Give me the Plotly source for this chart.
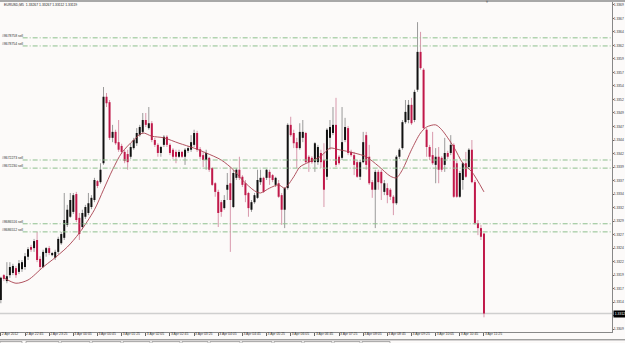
import numpy as np
import pandas as pd
import plotly.graph_objects as go

symbol = "EURUSD,M5"
first_bar = "2012-04-02 22:05"

# prices in points (1e-5)
open_pts = [133144,133190,133179,133190,133194,133203,133196,133201,133205,133224,
133242,133240,133255,133220,133205,133231,133240,133227,133222,133233,
133249,133259,133283,133298,133307,133340,133296,133279,133298,133305,
133316,133329,133364,133362,133397,133520,133510,133444,133455,133436,
133429,133418,133414,133409,133425,133434,133449,133455,133477,133462,
133471,133440,133431,133416,133431,133446,133431,133422,133418,133409,
133418,133409,133420,133422,133431,133453,133423,133412,133403,133407,
133388,133360,133344,133325,133314,133348,133360,133316,133370,133385,
133372,133360,133342,133311,133325,133333,133362,133370,133370,133381,
133375,133357,133360,133338,133311,133351,133468,133453,133436,133425,
133444,133453,133409,133407,133399,133399,133416,133403,133372,133444,
133453,133468,133409,133407,133440,133462,133418,133412,133399,133372,
133399,133449,133409,133362,133348,133381,133381,133344,133351,133348,
133335,133323,133409,133425,133473,133477,133505,133477,133533,133603,
133570,133459,133427,133412,133394,133409,133407,133394,133416,133416,
133431,133397,133335,133366,133397,133390,133422,133362,133286,133277,
133267]
high_pts = [133187,133192,133214,133214,133211,133207,133218,133218,133231,133242,
133246,133257,133270,133225,133237,133242,133244,133233,133237,133261,
133270,133342,133320,133342,133342,133344,133305,133311,133320,133342,
133338,133370,133366,133397,133538,133527,133514,133468,133459,133477,
133433,133422,133422,133434,133444,133462,133468,133490,133490,133501,
133475,133444,133434,133429,133449,133449,133434,133425,133422,133422,
133420,133425,133429,133449,133459,133457,133427,133418,133422,133409,
133390,133362,133348,133329,133338,133379,133390,133385,133388,133409,
133375,133366,133344,133329,133342,133385,133385,133372,133386,133385,
133377,133372,133366,133342,133353,133471,133483,133459,133444,133471,
133477,133455,133412,133410,133436,133431,133422,133434,133462,133477,
133501,133518,133412,133501,133481,133466,133422,133418,133403,133403,
133455,133455,133431,133366,133385,133385,133385,133366,133360,133351,
133338,133412,133425,133477,133514,133514,133518,133533,133658,133640,
133573,133462,133431,133455,133425,133427,133410,133444,133420,133449,
133434,133401,133383,133399,133418,133425,133440,133366,133292,133283,
133267]
low_pts = [133138,133179,133175,133185,133190,133185,133192,133196,133200,133218,
133233,133233,133214,133200,133203,133224,133227,133225,133218,133229,
133246,133255,133279,133296,133303,133288,133255,133275,133294,133301,
133312,133325,133351,133359,133394,133501,133440,133436,133431,133418,
133414,133397,133385,133405,133422,133429,133446,133451,133464,133459,
133436,133427,133409,133409,133427,133427,133412,133405,133397,133407,
133407,133394,133416,133418,133427,133418,133405,133390,133385,133381,
133355,133335,133279,133298,133311,133329,133233,133314,133366,133366,
133353,133325,133298,133307,133322,133331,133357,133342,133366,133357,
133362,133353,133333,133283,133277,133348,133446,133425,133388,133422,
133436,133397,133381,133396,133381,133394,133388,133316,133366,133422,
133449,133390,133394,133403,133436,133412,133409,133375,133370,133366,
133397,133385,133357,133333,133277,133348,133329,133338,133323,133329,
133301,133320,133405,133422,133470,133471,133468,133473,133529,133570,
133459,133409,133403,133394,133360,133360,133381,133381,133405,133412,
133333,133333,133333,133348,133370,133386,133360,133283,133264,133255,
133112]
close_pts = [133185,133183,133188,133205,133207,133190,133212,133214,133225,133238,
133237,133253,133218,133205,133233,133240,133231,133231,133233,133257,
133266,133292,133311,133329,133338,133292,133266,133305,133316,133323,
133333,133366,133355,133385,133520,133508,133444,133455,133434,133422,
133418,133401,133399,133427,133440,133453,133464,133477,133468,133471,
133440,133431,133416,133427,133446,133431,133416,133409,133409,133418,
133409,133422,133425,133436,133453,133422,133409,133403,133416,133385,
133357,133344,133305,133307,133329,133357,133329,133379,133385,133370,
133357,133338,133314,133325,133338,133366,133370,133344,133385,133370,
133366,133370,133335,133311,133351,133468,133449,133434,133425,133455,
133455,133399,133399,133399,133434,133427,133399,133348,133459,133464,
133468,133394,133397,133436,133464,133416,133412,133394,133372,133399,
133436,133394,133360,133348,133381,133362,133360,133360,133338,133335,
133323,133409,133422,133473,133492,133505,133471,133529,133603,133573,
133462,133427,133409,133397,133409,133385,133385,133416,133409,133431,
133335,133335,133379,133397,133372,133422,133362,133286,133277,133261,
133119]

# moving average, read at selected bars
ma_bars = [1,5,9,14,17,22,26,31,34,37,40,44,47,50,54,59,64,68,73,77,80,84,86,89,92,94,
           97,99,102,106,109,112,117,121,125,129,131,133,136,139,141,144,146,150,153,156,160]
ma_pts = [133185,133175,133181,133205,133218,133242,133268,133311,133348,133385,133416,
          133440,133453,133447,133444,133434,133425,133416,133403,133385,133366,133346,
          133342,133351,133357,133351,133372,133390,133399,133410,133425,133422,133416,
          133409,133392,133373,133370,133385,133422,133453,133464,133468,133459,133427,
          133397,133381,133344]

order_names = ["#8678758 sell", "#8678754 sell", "#8672273 sell",
               "#8672230 sell", "#8686516 sell", "#8686512 sell"]
order_prices = [1.33629, 1.33614, 1.33403, 1.33388, 1.33285, 1.33270]

price_ticks = [1.33690,1.33665,1.33640,1.33615,1.33590,1.33565,1.33540,1.33515,1.33490,
               1.33465,1.33440,1.33415,1.33390,1.33365,1.33340,1.33315,1.33290,1.33265,
               1.33240,1.33215,1.33190,1.33165,1.33140,1.33115,1.33090]
price_tick_text = ["1.3369","1.3367","1.3364","1.3362","1.3359","1.3357","1.3354","1.3352",
                   "1.3349","1.3347","1.3344","1.3342","1.3339","1.3337","1.3334","1.3332",
                   "1.3329","1.3327","1.3324","1.3322","1.3319","1.3317","1.3314","",
                   "1.3309"]
time_tick_bars = list(range(0, 161, 8))
time_tick_text = ["2 Apr 2012","2 Apr 22:45","2 Apr 23:25","3 Apr 00:05","3 Apr 00:45",
                  "3 Apr 01:25","3 Apr 02:05","3 Apr 02:45","3 Apr 03:25","3 Apr 04:05",
                  "3 Apr 04:45","3 Apr 05:25","3 Apr 06:05","3 Apr 06:45","3 Apr 07:25",
                  "3 Apr 08:05","3 Apr 08:45","3 Apr 09:25","3 Apr 10:05","3 Apr 10:45",
                  "3 Apr 11:25"]
bid = 1.33119

o = np.array(open_pts) / 1e5
h = np.array(high_pts) / 1e5
l = np.array(low_pts) / 1e5
c = np.array(close_pts) / 1e5
t = pd.date_range(first_bar, periods=len(o), freq="5min")

BG = "#FCFAF9"
UP = "#111111"
DN = "#C0184A"

def segs(mask, y0, y1):
    xs, ys = [], []
    for i in np.where(mask)[0]:
        xs += [t[i], t[i], None]
        ys += [y0[i], y1[i], None]
    return xs, ys

up = c >= o
fig = go.Figure()
for m, col in [(up, "#9a9a9a"), (~up, "#d898ac")]:
    xs, ys = segs(m, l, h)
    fig.add_trace(go.Scatter(x=xs, y=ys, mode="lines", line=dict(color=col, width=1),
                             hoverinfo="skip", showlegend=False))
for m, col in [(up, UP), (~up, DN)]:
    xs, ys = segs(m, o, c)
    fig.add_trace(go.Scatter(x=xs, y=ys, mode="lines", line=dict(color=col, width=2),
                             hoverinfo="skip", showlegend=False))

fig.add_trace(go.Scatter(x=t[ma_bars], y=np.array(ma_pts) / 1e5, mode="lines",
                         line=dict(color="#A8404E", width=0.9, shape="spline", smoothing=0.8),
                         hoverinfo="skip", showlegend=False))

shapes = []
for p in order_prices:
    shapes.append(dict(type="line", xref="paper", yref="y", x0=0.037, x1=1, y0=p, y1=p,
                       line=dict(color="#8DBF8D", width=1, dash="5px,2px,1px,2px")))
shapes.append(dict(type="line", xref="paper", yref="y", x0=0, x1=1, y0=bid, y1=bid,
                   line=dict(color="#CFCFCF", width=1.5), layer="below"))
# window frame
shapes.append(dict(type="rect", xref="paper", yref="paper", x0=0, x1=625/612,
                   y0=1, y1=1 + 2/330, fillcolor="#A8A8A8", line=dict(width=0)))
shapes.append(dict(type="line", xref="paper", yref="paper", x0=0, x1=625/612,
                   y0=-7.8/330, y1=-7.8/330, line=dict(color="#7a7a7a", width=1)))
tab_edges = [0, 22, 26, 59, 61, 90, 92, 121, 123, 150, 152, 180, 182, 208, 210, 240, 242,
             272, 274, 302, 304, 332, 334, 360, 362, 390]
for a, b in zip(tab_edges[0::2], tab_edges[1::2]):
    shapes.append(dict(type="rect", xref="paper", yref="paper", x0=a/612, x1=b/612,
                       y0=-14/330, y1=-9.5/330, line=dict(color="#9a9a9a", width=0.8),
                       fillcolor="#F4F2F0"))

ann = [dict(text=f"{symbol}  {o[-1]:.5f} {h[-1]:.5f} {l[-1]:.5f} {c[-1]:.5f}",
            xref="paper", yref="paper", x=0.003, y=1 - 3/330, xanchor="left", yanchor="middle",
            showarrow=False, font=dict(size=3.4, color="#222", family="Liberation Sans"))]
for name, p in zip(order_names, order_prices):
    ann.append(dict(text=name, xref="paper", yref="y", x=0.0, y=p, xanchor="left",
                    yanchor="middle", yshift=2, showarrow=False,
                    font=dict(size=3.4, color="#333", family="Liberation Sans")))
ann.append(dict(text=f"{bid:.4f}", xref="paper", yref="y", x=1.0, y=bid, xanchor="left",
                yanchor="middle", xshift=1, showarrow=False, bgcolor="#000000",
                borderpad=0.8, font=dict(size=3.4, color="#ffffff", family="Liberation Sans")))
ann.append(dict(text="▼", xref="paper", yref="paper", x=487/612, y=1 + 1/330,
                xanchor="center", yanchor="middle", showarrow=False,
                font=dict(size=4, color="#777")))

fig.update_layout(
    width=625, height=343, margin=dict(l=0, r=13, t=2, b=11),
    paper_bgcolor=BG, plot_bgcolor=BG, shapes=shapes, annotations=ann,
    xaxis=dict(type="date", range=["2012-04-02 22:03:36", "2012-04-03 14:57:00"],
               tickmode="array", tickvals=t[time_tick_bars], ticktext=time_tick_text,
               ticks="outside", ticklen=3, tickcolor="#666", tickwidth=1, tickangle=0,
               ticklabelposition="outside right", ticklabelstandoff=-2,
               tickfont=dict(size=3.4, color="#333", family="Liberation Sans"),
               showgrid=False, zeroline=False, showline=True, linecolor="#888",
               linewidth=1, automargin=False),
    yaxis=dict(side="right", range=[1.330848, 1.336953], tickmode="array",
               tickvals=price_ticks, ticktext=price_tick_text,
               ticks="outside", ticklen=1, tickcolor="#666", ticklabelstandoff=-1,
               tickfont=dict(size=3.3, color="#333", family="Liberation Sans"),
               showgrid=False, zeroline=False, showline=True, linecolor="#888",
               linewidth=1, automargin=False),
)
fig.write_html("out.html")
